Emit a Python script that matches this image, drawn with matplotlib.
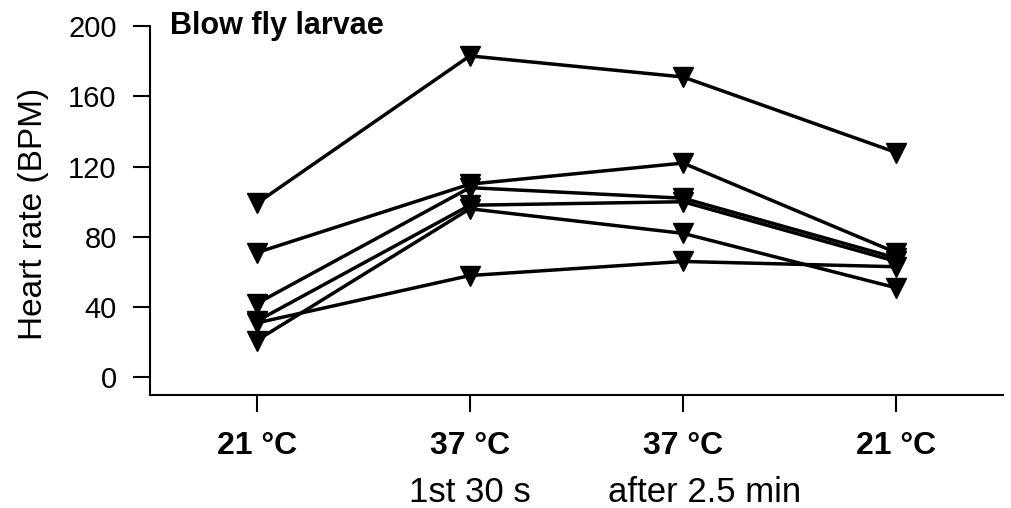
import matplotlib.pyplot as plt

plt.rcParams['font.family'] = ['Liberation Sans', 'DejaVu Sans']

conditions = ["21 \u00b0C", "37 \u00b0C", "37 \u00b0C", "21 \u00b0C"]
sublabels = ["1st 30 s", "after 2.5 min"]
yticks = [0, 40, 80, 120, 160, 200]

# heart rate per larva (BPM) at each condition
larva_a = [99, 183, 171, 128]
larva_b = [71, 110, 122, 71]
larva_c = [42, 108, 102, 68]
larva_d = [32, 98, 100, 66]
larva_e = [21, 96, 82, 51]
larva_f = [31, 58, 66, 63]
larvae = [larva_a, larva_b, larva_c, larva_d, larva_e, larva_f]

fig = plt.figure(figsize=(10.12, 5.08), dpi=100)
ax = fig.add_axes([0.1482, 0.2224, 0.8428, 0.7264])

x = list(range(len(conditions)))
for hr in larvae:
    ax.plot(x, hr, color="black", lw=2.5, marker="v", markersize=15)

ax.set_xlim(-0.5, 3.5)
ax.set_ylim(-10, 200)
ax.set_yticks(yticks)
ax.set_xticks(x)
ax.set_xticklabels(conditions, fontsize=23, fontweight="bold")
ax.tick_params(axis="y", labelsize=21, length=12, width=1.5, pad=12)
ax.tick_params(axis="x", length=12, width=1.5, pad=14)
ax.spines["top"].set_visible(False)
ax.spines["right"].set_visible(False)
ax.spines["left"].set_linewidth(1.5)
ax.spines["bottom"].set_linewidth(1.5)
ax.set_ylabel("Heart rate (BPM)", fontsize=24)
ax.yaxis.set_label_coords(-0.118, 0.49)

ax.text(1, -0.29, sublabels[0], transform=ax.get_xaxis_transform(),
        ha="center", va="baseline", fontsize=25)
ax.text(2.1, -0.29, sublabels[1], transform=ax.get_xaxis_transform(),
        ha="center", va="baseline", fontsize=25)

ax.text(0.023, 1.0, "Blow fly larvae", transform=ax.transAxes,
        ha="left", va="center", fontsize=22, fontweight="bold")

plt.savefig("out.png", dpi=100)
plt.close()
